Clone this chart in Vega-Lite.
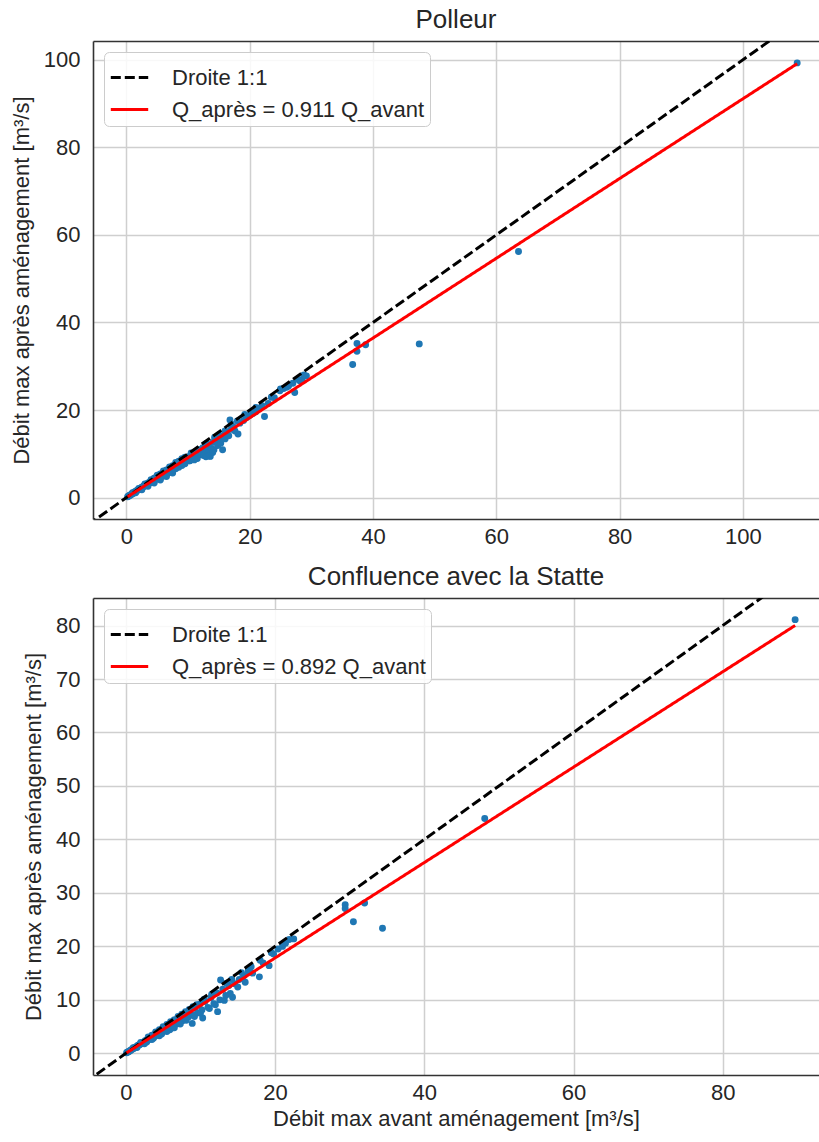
{
  "$schema": "https://vega.github.io/schema/vega-lite/v6.json",
  "padding": {"left": 10, "top": 7, "right": 0, "bottom": 3},
  "spacing": 17,
  "config": {
    "font": "Liberation Sans",
    "view": {"stroke": null},
    "axis": {
      "labelFont": "Liberation Sans",
      "labelFontSize": 22,
      "labelColor": "#262626",
      "titleFont": "Liberation Sans",
      "titleFontSize": 22,
      "titleFontWeight": "normal",
      "titleColor": "#262626",
      "domainColor": "#333333",
      "domainWidth": 1.6,
      "ticks": false,
      "gridColor": "#cfcfcf",
      "gridWidth": 1.5,
      "labelPadding": 7
    },
    "title": {"font": "Liberation Sans", "fontSize": 26, "fontWeight": "normal", "color": "#262626", "offset": 8, "anchor": "middle"},
    "legend": {
      "orient": "top-left",
      "offset": 11,
      "title": null,
      "symbolType": "stroke",
      "symbolSize": 1400,
      "symbolStrokeWidth": 3,
      "labelFont": "Liberation Sans",
      "labelFontSize": 22,
      "labelColor": "#262626",
      "labelOffset": 22,
      "labelLimit": 0,
      "rowPadding": -3,
      "padding": 5,
      "strokeColor": "#cccccc",
      "fillColor": "rgba(255,255,255,0.85)",
      "cornerRadius": 5
    }
  },
  "datasets": {
    "lignes_polleur": [
      {"serie": "Droite 1:1", "avant": -10, "apres": -10},
      {"serie": "Droite 1:1", "avant": 120, "apres": 120},
      {"serie": "Q_après = 0.911 Q_avant", "avant": 0.2, "apres": 0.18},
      {"serie": "Q_après = 0.911 Q_avant", "avant": 108.8, "apres": 99.12}
    ],
    "lignes_statte": [
      {"serie": "Droite 1:1", "avant": -10, "apres": -10},
      {"serie": "Droite 1:1", "avant": 100, "apres": 100},
      {"serie": "Q_après = 0.892 Q_avant", "avant": 0.1, "apres": 0.09},
      {"serie": "Q_après = 0.892 Q_avant", "avant": 89.7, "apres": 80.01}
    ],
    "polleur": [
      {"avant": 0.2, "apres": 0.2}, {"avant": 0.3, "apres": 0.3}, {"avant": 0.4, "apres": 0.35}, {"avant": 0.5, "apres": 0.5},
      {"avant": 0.6, "apres": 0.55}, {"avant": 0.7, "apres": 0.6}, {"avant": 0.8, "apres": 0.75}, {"avant": 0.9, "apres": 0.8},
      {"avant": 1.0, "apres": 0.95}, {"avant": 1.1, "apres": 1.0}, {"avant": 1.2, "apres": 1.05}, {"avant": 1.3, "apres": 1.25},
      {"avant": 1.4, "apres": 1.3}, {"avant": 1.5, "apres": 1.35}, {"avant": 1.6, "apres": 1.5}, {"avant": 1.7, "apres": 1.55},
      {"avant": 1.8, "apres": 1.7}, {"avant": 1.9, "apres": 1.7}, {"avant": 2.0, "apres": 1.85}, {"avant": 2.1, "apres": 1.9},
      {"avant": 2.2, "apres": 2.1}, {"avant": 2.3, "apres": 2.0}, {"avant": 2.4, "apres": 2.25}, {"avant": 2.5, "apres": 2.3},
      {"avant": 2.6, "apres": 2.4}, {"avant": 2.7, "apres": 2.4}, {"avant": 2.8, "apres": 2.65}, {"avant": 2.9, "apres": 2.6},
      {"avant": 3.0, "apres": 2.8}, {"avant": 3.1, "apres": 2.75}, {"avant": 3.2, "apres": 3.0}, {"avant": 3.3, "apres": 2.9},
      {"avant": 3.4, "apres": 3.2}, {"avant": 3.5, "apres": 3.1}, {"avant": 3.6, "apres": 3.4}, {"avant": 3.7, "apres": 3.3},
      {"avant": 3.8, "apres": 3.5}, {"avant": 3.9, "apres": 3.45}, {"avant": 4.0, "apres": 3.8}, {"avant": 4.1, "apres": 3.6},
      {"avant": 4.2, "apres": 3.9}, {"avant": 4.3, "apres": 3.8}, {"avant": 4.4, "apres": 4.2}, {"avant": 4.5, "apres": 3.9},
      {"avant": 4.6, "apres": 4.3}, {"avant": 4.7, "apres": 4.1}, {"avant": 4.8, "apres": 4.6}, {"avant": 4.9, "apres": 4.3},
      {"avant": 5.0, "apres": 4.8}, {"avant": 5.1, "apres": 4.5}, {"avant": 5.2, "apres": 4.9}, {"avant": 5.3, "apres": 4.6},
      {"avant": 5.4, "apres": 5.1}, {"avant": 5.5, "apres": 4.8}, {"avant": 5.6, "apres": 5.3}, {"avant": 5.7, "apres": 5.0},
      {"avant": 5.8, "apres": 5.5}, {"avant": 5.9, "apres": 5.1}, {"avant": 6.0, "apres": 5.7}, {"avant": 6.1, "apres": 5.3},
      {"avant": 6.2, "apres": 5.8}, {"avant": 6.3, "apres": 5.5}, {"avant": 6.4, "apres": 6.1}, {"avant": 6.5, "apres": 5.6},
      {"avant": 6.6, "apres": 6.2}, {"avant": 6.7, "apres": 5.8}, {"avant": 6.8, "apres": 6.4}, {"avant": 6.9, "apres": 6.0},
      {"avant": 7.0, "apres": 6.6}, {"avant": 7.1, "apres": 6.2}, {"avant": 7.2, "apres": 6.8}, {"avant": 7.3, "apres": 6.3},
      {"avant": 7.4, "apres": 6.9}, {"avant": 7.5, "apres": 6.5}, {"avant": 7.6, "apres": 7.1}, {"avant": 7.8, "apres": 6.8},
      {"avant": 8.0, "apres": 7.5}, {"avant": 8.2, "apres": 7.2}, {"avant": 8.4, "apres": 7.8}, {"avant": 8.6, "apres": 7.5},
      {"avant": 8.8, "apres": 8.2}, {"avant": 9.0, "apres": 7.8}, {"avant": 9.2, "apres": 8.6}, {"avant": 9.4, "apres": 8.1},
      {"avant": 9.6, "apres": 8.9}, {"avant": 9.8, "apres": 8.5}, {"avant": 10.0, "apres": 9.3}, {"avant": 10.2, "apres": 8.4},
      {"avant": 10.4, "apres": 9.6}, {"avant": 10.6, "apres": 9.0}, {"avant": 10.8, "apres": 10.0}, {"avant": 11.0, "apres": 9.2},
      {"avant": 11.2, "apres": 10.3}, {"avant": 11.4, "apres": 9.5}, {"avant": 11.6, "apres": 10.8}, {"avant": 11.8, "apres": 9.8},
      {"avant": 12.0, "apres": 11.0}, {"avant": 12.2, "apres": 9.9}, {"avant": 12.4, "apres": 11.4}, {"avant": 12.6, "apres": 10.2},
      {"avant": 12.8, "apres": 11.6}, {"avant": 13.0, "apres": 10.5}, {"avant": 13.2, "apres": 12.1}, {"avant": 13.4, "apres": 10.8},
      {"avant": 13.6, "apres": 9.4}, {"avant": 13.8, "apres": 11.2}, {"avant": 14.0, "apres": 12.6}, {"avant": 14.2, "apres": 10.9},
      {"avant": 14.5, "apres": 13.0}, {"avant": 14.8, "apres": 11.9}, {"avant": 15.0, "apres": 13.6}, {"avant": 15.3, "apres": 12.4},
      {"avant": 15.6, "apres": 10.9}, {"avant": 15.8, "apres": 14.2}, {"avant": 16.0, "apres": 13.4}, {"avant": 16.3, "apres": 15.0},
      {"avant": 16.6, "apres": 14.1}, {"avant": 16.8, "apres": 17.7}, {"avant": 17.0, "apres": 15.6}, {"avant": 17.3, "apres": 16.2},
      {"avant": 17.6, "apres": 15.2}, {"avant": 18.1, "apres": 14.5}, {"avant": 18.4, "apres": 17.0}, {"avant": 19.0, "apres": 17.6},
      {"avant": 19.5, "apres": 18.3}, {"avant": 20.0, "apres": 18.8}, {"avant": 20.5, "apres": 19.2}, {"avant": 21.0, "apres": 19.6},
      {"avant": 21.5, "apres": 20.4}, {"avant": 22.0, "apres": 21.0}, {"avant": 22.4, "apres": 18.5}, {"avant": 23.0, "apres": 21.5},
      {"avant": 24.0, "apres": 22.8}, {"avant": 24.9, "apres": 24.4}, {"avant": 25.5, "apres": 24.9}, {"avant": 26.3, "apres": 25.5},
      {"avant": 27.3, "apres": 24.0}, {"avant": 27.0, "apres": 26.1}, {"avant": 28.1, "apres": 26.7}, {"avant": 28.5, "apres": 27.0},
      {"avant": 29.2, "apres": 27.8}, {"avant": 36.7, "apres": 30.4}, {"avant": 37.4, "apres": 33.4}, {"avant": 37.4, "apres": 35.2},
      {"avant": 38.8, "apres": 34.9}, {"avant": 47.5, "apres": 35.1}, {"avant": 63.6, "apres": 56.2}, {"avant": 108.8, "apres": 99.3},
      {"avant": 5.5, "apres": 4.3}, {"avant": 6.5, "apres": 5.2}, {"avant": 7.5, "apres": 6.0}, {"avant": 8.5, "apres": 6.9},
      {"avant": 9.5, "apres": 7.7}, {"avant": 10.3, "apres": 8.4}, {"avant": 11.5, "apres": 8.9}, {"avant": 12.5, "apres": 9.6},
      {"avant": 13.5, "apres": 9.5}, {"avant": 12.9, "apres": 9.3}, {"avant": 11.0, "apres": 8.6}, {"avant": 9.0, "apres": 7.3},
      {"avant": 8.0, "apres": 6.6}, {"avant": 7.0, "apres": 5.7}, {"avant": 6.0, "apres": 4.9}, {"avant": 4.5, "apres": 3.6},
      {"avant": 3.5, "apres": 2.9}, {"avant": 2.5, "apres": 2.0}, {"avant": 14.0, "apres": 10.3}, {"avant": 13.0, "apres": 12.3},
      {"avant": 10.5, "apres": 10.2}, {"avant": 9.5, "apres": 9.2}, {"avant": 8.5, "apres": 8.3}, {"avant": 7.5, "apres": 7.3},
      {"avant": 6.5, "apres": 6.3}, {"avant": 5.5, "apres": 5.4}, {"avant": 4.5, "apres": 4.4}, {"avant": 15.0, "apres": 14.3},
      {"avant": 16.0, "apres": 15.2}, {"avant": 14.3, "apres": 13.7}, {"avant": 17.0, "apres": 16.8}, {"avant": 18.0, "apres": 17.5},
      {"avant": 19.2, "apres": 19.0}, {"avant": 21.0, "apres": 20.6}, {"avant": 23.5, "apres": 22.9}, {"avant": 25.0, "apres": 24.8},
      {"avant": 26.0, "apres": 25.2}, {"avant": 27.8, "apres": 27.0}, {"avant": 28.8, "apres": 28.0},
      {"avant": 1.5, "apres": 1.1}, {"avant": 2.5, "apres": 1.8}, {"avant": 3.5, "apres": 2.6}, {"avant": 4.5, "apres": 3.3},
      {"avant": 5.5, "apres": 4.0}, {"avant": 6.5, "apres": 4.8}, {"avant": 7.5, "apres": 5.6}, {"avant": 1.0, "apres": 1.1},
      {"avant": 2.0, "apres": 2.1}, {"avant": 3.0, "apres": 3.1}, {"avant": 4.0, "apres": 4.1}, {"avant": 5.0, "apres": 5.1},
      {"avant": 6.0, "apres": 6.1}, {"avant": 7.0, "apres": 7.0}, {"avant": 8.0, "apres": 8.0}, {"avant": 9.0, "apres": 8.9}
    ],
    "statte": [
      {"avant": 0.1, "apres": 0.1}, {"avant": 0.2, "apres": 0.2}, {"avant": 0.3, "apres": 0.25}, {"avant": 0.4, "apres": 0.35},
      {"avant": 0.5, "apres": 0.45}, {"avant": 0.6, "apres": 0.5}, {"avant": 0.7, "apres": 0.65}, {"avant": 0.8, "apres": 0.7},
      {"avant": 0.9, "apres": 0.8}, {"avant": 1.0, "apres": 0.9}, {"avant": 1.1, "apres": 0.95}, {"avant": 1.2, "apres": 1.1},
      {"avant": 1.3, "apres": 1.1}, {"avant": 1.4, "apres": 1.25}, {"avant": 1.5, "apres": 1.3}, {"avant": 1.6, "apres": 1.45},
      {"avant": 1.7, "apres": 1.5}, {"avant": 1.8, "apres": 1.6}, {"avant": 1.9, "apres": 1.65}, {"avant": 2.0, "apres": 1.8},
      {"avant": 2.1, "apres": 1.85}, {"avant": 2.2, "apres": 2.0}, {"avant": 2.3, "apres": 1.95}, {"avant": 2.4, "apres": 2.15},
      {"avant": 2.5, "apres": 2.1}, {"avant": 2.6, "apres": 2.35}, {"avant": 2.7, "apres": 2.3}, {"avant": 2.8, "apres": 2.5},
      {"avant": 2.9, "apres": 2.45}, {"avant": 3.0, "apres": 2.75}, {"avant": 3.1, "apres": 2.6}, {"avant": 3.2, "apres": 2.9},
      {"avant": 3.3, "apres": 2.8}, {"avant": 3.4, "apres": 3.1}, {"avant": 3.5, "apres": 2.95}, {"avant": 3.6, "apres": 3.3},
      {"avant": 3.7, "apres": 3.1}, {"avant": 3.8, "apres": 3.5}, {"avant": 3.9, "apres": 3.2}, {"avant": 4.0, "apres": 3.7},
      {"avant": 4.1, "apres": 3.4}, {"avant": 4.2, "apres": 3.9}, {"avant": 4.3, "apres": 3.5}, {"avant": 4.4, "apres": 4.1},
      {"avant": 4.5, "apres": 3.7}, {"avant": 4.6, "apres": 4.3}, {"avant": 4.7, "apres": 3.9}, {"avant": 4.8, "apres": 4.5},
      {"avant": 4.9, "apres": 4.0}, {"avant": 5.0, "apres": 4.7}, {"avant": 5.2, "apres": 4.3}, {"avant": 5.4, "apres": 5.0},
      {"avant": 5.6, "apres": 4.6}, {"avant": 5.8, "apres": 5.3}, {"avant": 6.0, "apres": 4.9}, {"avant": 6.2, "apres": 5.7},
      {"avant": 6.4, "apres": 5.2}, {"avant": 6.6, "apres": 6.1}, {"avant": 6.8, "apres": 5.5}, {"avant": 7.0, "apres": 6.5},
      {"avant": 7.2, "apres": 5.8}, {"avant": 7.4, "apres": 6.8}, {"avant": 7.6, "apres": 6.1}, {"avant": 7.8, "apres": 7.2},
      {"avant": 8.0, "apres": 6.5}, {"avant": 8.2, "apres": 7.5}, {"avant": 8.4, "apres": 6.8}, {"avant": 8.6, "apres": 7.9},
      {"avant": 8.9, "apres": 5.6}, {"avant": 9.0, "apres": 7.2}, {"avant": 9.3, "apres": 8.6}, {"avant": 9.6, "apres": 7.6},
      {"avant": 9.9, "apres": 9.2}, {"avant": 10.3, "apres": 6.6}, {"avant": 10.2, "apres": 8.1}, {"avant": 10.6, "apres": 9.7},
      {"avant": 11.0, "apres": 8.6}, {"avant": 11.4, "apres": 10.4}, {"avant": 11.8, "apres": 9.3}, {"avant": 12.2, "apres": 11.3},
      {"avant": 12.3, "apres": 7.8}, {"avant": 12.7, "apres": 13.7}, {"avant": 12.6, "apres": 10.0}, {"avant": 13.0, "apres": 12.0},
      {"avant": 13.4, "apres": 10.8}, {"avant": 13.8, "apres": 12.7}, {"avant": 14.3, "apres": 10.5}, {"avant": 14.6, "apres": 13.0},
      {"avant": 15.2, "apres": 13.8}, {"avant": 15.8, "apres": 14.5}, {"avant": 16.4, "apres": 15.4}, {"avant": 17.0, "apres": 15.0},
      {"avant": 17.9, "apres": 14.3}, {"avant": 18.4, "apres": 16.9}, {"avant": 19.2, "apres": 16.4}, {"avant": 19.8, "apres": 18.6},
      {"avant": 21.0, "apres": 20.0}, {"avant": 21.9, "apres": 21.3}, {"avant": 22.5, "apres": 21.4}, {"avant": 29.4, "apres": 27.8},
      {"avant": 29.4, "apres": 27.1}, {"avant": 32.0, "apres": 28.1}, {"avant": 30.5, "apres": 24.6}, {"avant": 34.4, "apres": 23.4},
      {"avant": 48.1, "apres": 43.9}, {"avant": 89.7, "apres": 81.1},
      {"avant": 3.5, "apres": 3.4}, {"avant": 4.5, "apres": 4.4}, {"avant": 5.5, "apres": 5.4}, {"avant": 6.5, "apres": 6.3},
      {"avant": 7.5, "apres": 7.3}, {"avant": 8.5, "apres": 8.2}, {"avant": 9.5, "apres": 9.1}, {"avant": 10.5, "apres": 10.1},
      {"avant": 11.5, "apres": 11.0}, {"avant": 6.3, "apres": 4.8}, {"avant": 7.3, "apres": 5.5}, {"avant": 8.1, "apres": 6.2},
      {"avant": 9.2, "apres": 6.9}, {"avant": 10.0, "apres": 7.5}, {"avant": 11.2, "apres": 8.4}, {"avant": 12.0, "apres": 9.1},
      {"avant": 13.2, "apres": 9.9}, {"avant": 14.0, "apres": 11.2}, {"avant": 15.0, "apres": 12.4}, {"avant": 16.0, "apres": 13.3},
      {"avant": 5.9, "apres": 4.4}, {"avant": 4.8, "apres": 3.6}, {"avant": 3.7, "apres": 2.8}, {"avant": 2.8, "apres": 2.1},
      {"avant": 13.5, "apres": 13.1}, {"avant": 14.2, "apres": 13.8}, {"avant": 15.5, "apres": 15.1}, {"avant": 16.8, "apres": 16.2},
      {"avant": 18.0, "apres": 17.4}, {"avant": 19.5, "apres": 18.8}, {"avant": 20.4, "apres": 19.5}, {"avant": 21.4, "apres": 20.6},
      {"avant": 1.5, "apres": 1.1}, {"avant": 2.5, "apres": 1.8}, {"avant": 3.5, "apres": 2.6}, {"avant": 4.5, "apres": 3.3},
      {"avant": 5.5, "apres": 4.1}, {"avant": 6.5, "apres": 4.8}, {"avant": 1.0, "apres": 1.05}, {"avant": 2.0, "apres": 2.05},
      {"avant": 3.0, "apres": 3.05}, {"avant": 4.0, "apres": 4.0}, {"avant": 5.0, "apres": 5.0}, {"avant": 6.0, "apres": 5.9},
      {"avant": 7.0, "apres": 6.9}, {"avant": 8.0, "apres": 7.8}, {"avant": 9.0, "apres": 8.7}
    ]
  },
  "resolve": {
    "scale": {"x": "independent", "y": "independent", "color": "independent", "strokeDash": "independent"},
    "legend": {"color": "independent", "strokeDash": "independent"}
  },
  "vconcat": [
    {
      "title": {"text": "Polleur"},
      "width": 726,
      "height": 478,
      "encoding": {
        "y": {
          "field": "apres", "type": "quantitative",
          "scale": {"domain": [-4.9, 104.3], "nice": false, "zero": false},
          "axis": {"values": [0, 20, 40, 60, 80, 100], "title": "Débit max après aménagement [m³/s]", "labelPadding": 13, "titlePadding": 10}
        }
      },
      "resolve": {"axis": {"x": "independent"}},
      "layer": [
        {
          "data": {"name": "polleur"},
          "mark": {"type": "circle", "size": 48, "color": "#1f77b4", "opacity": 1},
          "encoding": {
            "x": {
              "field": "avant", "type": "quantitative",
              "scale": {"domain": [-5.42, 112.34], "nice": false, "zero": false},
              "axis": {"values": [0, 20, 40, 60, 80, 100], "title": null}
            }
          }
        },
        {
          "data": {"name": "lignes_polleur"},
          "mark": {"type": "line", "clip": true, "strokeWidth": 3},
          "encoding": {
            "x": {
              "field": "avant", "type": "quantitative",
              "axis": {"orient": "top", "labels": false, "grid": false, "title": null}
            },
            "color": {
              "field": "serie", "type": "nominal",
              "scale": {"domain": ["Droite 1:1", "Q_après = 0.911 Q_avant"], "range": ["#000000", "#ff0000"]}
            },
            "strokeDash": {
              "field": "serie", "type": "nominal",
              "scale": {"domain": ["Droite 1:1", "Q_après = 0.911 Q_avant"], "range": [[10, 4], [1, 0]]}
            }
          }
        }
      ]
    },
    {
      "title": {"text": "Confluence avec la Statte"},
      "width": 726,
      "height": 477,
      "encoding": {
        "y": {
          "field": "apres", "type": "quantitative",
          "scale": {"domain": [-4.05, 85.15], "nice": false, "zero": false},
          "axis": {"values": [0, 10, 20, 30, 40, 50, 60, 70, 80], "title": "Débit max après aménagement [m³/s]", "labelPadding": 13, "titlePadding": 10}
        }
      },
      "resolve": {"axis": {"x": "independent"}},
      "layer": [
        {
          "data": {"name": "statte"},
          "mark": {"type": "circle", "size": 48, "color": "#1f77b4", "opacity": 1},
          "encoding": {
            "x": {
              "field": "avant", "type": "quantitative",
              "scale": {"domain": [-4.4, 92.9], "nice": false, "zero": false},
              "axis": {"values": [0, 20, 40, 60, 80], "title": "Débit max avant aménagement [m³/s]", "titlePadding": 5}
            }
          }
        },
        {
          "data": {"name": "lignes_statte"},
          "mark": {"type": "line", "clip": true, "strokeWidth": 3},
          "encoding": {
            "x": {
              "field": "avant", "type": "quantitative",
              "axis": {"orient": "top", "labels": false, "grid": false, "title": null}
            },
            "color": {
              "field": "serie", "type": "nominal",
              "scale": {"domain": ["Droite 1:1", "Q_après = 0.892 Q_avant"], "range": ["#000000", "#ff0000"]}
            },
            "strokeDash": {
              "field": "serie", "type": "nominal",
              "scale": {"domain": ["Droite 1:1", "Q_après = 0.892 Q_avant"], "range": [[10, 4], [1, 0]]}
            }
          }
        }
      ]
    }
  ]
}
